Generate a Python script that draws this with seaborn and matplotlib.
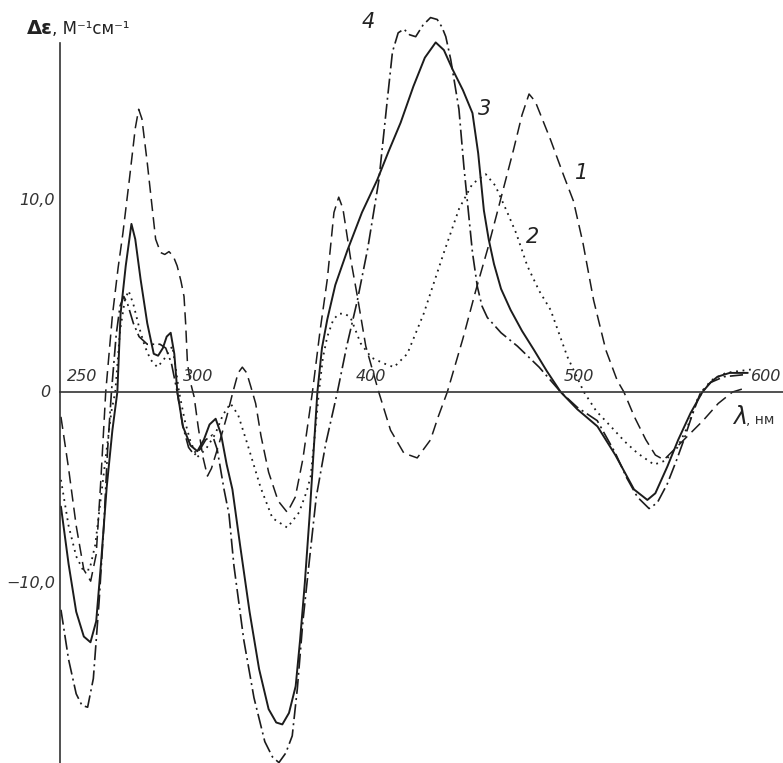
import numpy as np
import pandas as pd
import matplotlib
matplotlib.use("Agg")
import matplotlib.pyplot as plt
import matplotlib.transforms as mtransforms
import seaborn as sns

# ----------------------------
# Data
# ----------------------------

wl1 = [239, 243, 247, 251, 254.6, 257.5, 260, 262.5, 266, 269, 271.5, 275, 278, 279.8, 281.5,
       284.3, 288.7, 291.3, 293.5, 295.7, 298, 300, 302, 303.6, 304.5, 305.4, 307, 308.9, 311,
       313.5, 315.9, 318, 322, 326, 329, 332, 334.2, 336.5, 338.6, 341.2, 344, 348, 353, 357.8,
       362, 366, 371, 375, 378.8, 382.3, 384.8, 387, 391, 394.6, 399, 405.8, 412, 419, 426, 433,
       437, 441.8, 450, 456.7, 463, 468, 476.6, 481, 484.7, 488, 492, 496, 503, 508, 513, 518.6,
       525, 531, 534.5, 540, 546, 551, 555.5, 561, 568, 576, 584, 591.5, 598]
de1 = [-1.3, -4.0, -7.0, -9.3, -9.9, -8.5, -4.5, 0, 4.0, 6.5, 8.3, 11.2, 13.8, 14.8, 14.3,
       12.0, 8.0, 7.3, 7.2, 7.35, 7.1, 6.6, 5.8, 5.0, 3.5, 1.5, 0.5, -0.25, -1.8,
       -3.4, -4.4, -4.0, -2.7, -1.3, -0.1, 1.0, 1.3, 1.0, 0.3, -0.6, -2.3, -4.2, -5.7, -6.3,
       -5.5, -3.5, 0, 3.2, 5.9, 9.4, 10.2, 9.6, 7.0, 5.0, 2.4, 0, -2.0, -3.2, -3.45, -2.5,
       -1.3, 0, 2.8, 5.3, 7.5, 9.4, 12.7, 14.5, 15.6, 15.2, 14.2, 13.2, 11.3, 10.0, 7.8, 4.8,
       2.2, 0.6, 0, -1.3, -2.5, -3.3, -3.55, -3.0, -2.3, -1.5, -0.6, 0, 0.2]

wl2 = [239, 243, 247, 250.5, 254, 257, 260, 263, 265.5, 267.5, 270, 272.5, 274.5, 277, 280,
       283, 286, 289.6, 293, 297.5, 299.3, 301, 304, 307, 310.6, 315, 320, 324, 328, 332, 336.8,
       343.8, 350, 357.8, 364, 368, 370.1, 372.5, 374.4, 376.5, 378.8, 382, 385, 388, 391, 396.3,
       402, 408.4, 413.8, 420.8, 429.4, 440, 448, 455, 462, 467, 473.3, 478, 483.8, 490, 496,
       504.8, 513.5, 520, 527.6, 535, 541.6, 550.3, 556, 562.6, 568, 573, 580, 588, 595, 603]
de2 = [-4.6, -7.0, -8.6, -9.3, -9.3, -8.0, -5.5, -3.0, -1.0, 0, 3.2, 4.8, 5.3, 4.6, 3.4,
       2.4, 1.7, 1.3, 1.7, 2.4, 1.2, 0, -1.5, -2.6, -3.4, -3.0, -2.2, -1.2, -0.6, -1.2, -2.7,
       -5.0, -6.6, -7.1, -6.3, -5.2, -4.4, -2.0, 0, 1.8, 2.9, 3.8, 4.1, 4.1, 3.9, 2.55,
       1.8, 1.5, 1.3, 2.0, 4.1, 7.3, 9.6, 10.9, 11.4, 10.8, 9.4, 8.3, 6.6, 5.3, 4.3,
       1.85, 0, -1.0, -1.8, -2.6, -3.2, -3.8, -3.6, -2.9, -1.8, -0.4, 0.6, 1.0, 1.1, 1.2]

wl3 = [239, 243, 247, 251, 254.5, 257.5, 260, 263, 266, 268.6, 270.3, 273, 276, 278, 280.8,
       284.3, 287.7, 290, 292.5, 294.5, 296.6, 298.5, 300.1, 303, 307, 310.6, 314, 317, 320.2,
       323, 326, 329, 333, 338, 343, 348, 352, 355.2, 358.7, 362.2, 364.5, 367, 369.5, 371.5,
       373.6, 376, 378.8, 383, 389.3, 397, 405, 411, 417.3, 424, 430, 435.7, 440, 444.5, 450,
       455, 458, 461, 463.5, 466.3, 470, 475, 481, 487.3, 494, 501.3, 510, 520.6, 530, 539.8,
       546.8, 551, 557.3, 563, 569.5, 575.7, 580, 583.6, 590, 599.5]
de3 = [-6.0, -9.0, -11.5, -12.8, -13.1, -12.0, -9.0, -5.0, -2.0, 0, 4.1, 6.6, 8.8, 8.0, 5.9,
       3.6, 2.0, 1.9, 2.3, 2.9, 3.1, 2.0, 0, -1.8, -2.8, -3.1, -2.5, -1.7, -1.4,
       -2.2, -3.8, -5.1, -8.0, -11.5, -14.5, -16.6, -17.3, -17.4, -16.8, -15.4, -13.0, -10.0, -6.5, -3.3,
       0, 2.3, 3.8, 5.6, 7.4, 9.4, 11.1, 12.6, 14.1, 16.0, 17.5, 18.3, 17.9, 16.9, 15.8,
       14.6, 12.5, 9.5, 8.0, 6.7, 5.4, 4.3, 3.2, 2.2, 1.1, 0, -0.9, -1.8, -3.3, -5.1,
       -5.65, -5.3, -3.9, -2.5, -1.1, 0, 0.5, 0.8, 1.0, 1.0]

wl4 = [239, 243, 247, 250, 253, 256, 259, 261.5, 263.5, 265.5, 268, 270, 272, 274, 277, 280,
       284.3, 288, 291, 294, 297, 300, 303, 306, 309, 312, 315, 318.5, 321, 324.6, 327.2, 329.8,
       335, 340.3, 346, 350, 353.4, 357, 360.4, 363.1, 366, 369.2, 373, 378, 384.1, 389, 394.6,
       400, 405.9, 410, 413, 416, 419, 422, 425.2, 429, 433, 436.5, 439, 441, 443.6, 447.9,
       450.5, 453, 455, 457.6, 460, 462.8, 470, 478.6, 490, 501.3, 510, 520.5, 530, 536, 541.6,
       547.7, 552, 557.3, 562, 566, 570, 574.8, 580, 587, 597]
de4 = [-11.4, -14.0, -15.8, -16.4, -16.5, -15.0, -11.0, -7.0, -3.0, 0, 3.0, 4.5, 5.0, 4.6, 3.6, 2.9,
       2.5, 2.5, 2.5, 2.3, 1.5, 0, -1.8, -2.9, -3.3, -3.0, -2.5, -2.25, -3.0, -5.1, -6.4, -9.1,
       -13.0, -16.0, -18.3, -19.1, -19.4, -18.9, -18.0, -15.5, -12.0, -9.0, -5.5, -2.7, 0, 2.4, 4.8,
       7.5, 11.1, 15.0, 17.8, 18.8, 19.0, 18.7, 18.6, 19.2, 19.6, 19.5, 19.1, 18.6, 17.4, 14.8,
       11.8, 9.3, 7.3, 5.5, 4.5, 3.9, 3.1, 2.4, 1.3, 0, -0.8, -1.5, -3.2, -4.5, -5.5,
       -6.1, -5.8, -4.8, -3.6, -2.5, -1.3, 0, 0.5, 0.8, 0.9]

curve_names = ["1", "2", "3", "4"]
x_ticks = [250, 300, 400, 500, 600]
x_tick_labels = ["250", "300", "400", "500", "600"]
y_ticks = [10, -10]
y_tick_labels = ["10,0", "\u221210,0"]

df = pd.concat([
    pd.DataFrame({"wl": w, "de": d, "curve": n})
    for w, d, n in zip([wl1, wl2, wl3, wl4], [de1, de2, de3, de4], curve_names)
])

# ----------------------------
# Figure
# ----------------------------

sns.set_style("white")
plt.rcParams["font.family"] = ["DejaVu Sans"]

W, H = 783, 763
fig = plt.figure(figsize=(W / 100, H / 100), dpi=100)
ax = fig.add_axes([60 / W, 0, (W - 60) / W, 1])

ink = "#1c1c1c"
styles = {
    "1": dict(linestyle=(0, (8, 4)), linewidth=1.1),
    "2": dict(linestyle=(0, (1, 2.6)), linewidth=1.3),
    "3": dict(linestyle="-", linewidth=1.4),
    "4": dict(linestyle=(0, (9, 2.5, 1.2, 2.5)), linewidth=1.2),
}

for name in curve_names:
    sub = df[df["curve"] == name]
    sns.lineplot(data=sub, x="wl", y="de", sort=False, estimator=None,
                 color=ink, ax=ax, legend=False, **styles[name])

ax.set_xlim(238.5, 618)
ax.set_ylim(-19.42, 20.52)

for s in ["top", "right"]:
    ax.spines[s].set_visible(False)
ax.spines["bottom"].set_position(("data", 0))
ax.spines["left"].set_bounds(-19.42, 18.27)
for s in ["left", "bottom"]:
    ax.spines[s].set_color("#333333")
    ax.spines[s].set_linewidth(1.2)

ax.set_xticks(x_ticks)
ax.set_yticks(y_ticks)
ax.tick_params(axis="x", direction="inout", length=8, width=1, colors="#333333",
               labelbottom=False)
ax.tick_params(axis="y", direction="in", length=8, width=1, colors="#333333",
               labelleft=False)
ax.set_xlabel("")
ax.set_ylabel("")

# tick labels, italic, sitting above the zero line
label_font = dict(fontsize=11.5, fontstyle="italic", color="#333333")
label_dx = [-15, 6, -12, 5, 2]
for t, lab, dx in zip(x_ticks, x_tick_labels, label_dx):
    tr = mtransforms.offset_copy(ax.transData, fig=fig, x=dx, y=8, units="dots")
    ax.text(t, 0, lab, transform=tr, ha="left", va="bottom", **label_font)

for t, lab in zip(y_ticks, y_tick_labels):
    tr = mtransforms.offset_copy(ax.transData, fig=fig, x=-5, y=0, units="dots")
    ax.text(238.5, t, lab, transform=tr, ha="right", va="center", **label_font)
tr0 = mtransforms.offset_copy(ax.transData, fig=fig, x=-10, y=0, units="dots")
ax.text(238.5, 0, "0", transform=tr0, ha="right", va="center", **label_font)

# axis titles
def fpos(px, py):
    return px / W, 1 - py / H

fig.text(*fpos(27, 34), "\u0394\u03b5", fontsize=14, fontweight="bold",
         color="#222222", ha="left", va="baseline")
fig.text(*fpos(52, 34), ", \u041c\u207b\u00b9\u0441\u043c\u207b\u00b9", fontsize=12,
         color="#222222", ha="left", va="baseline")
fig.text(*fpos(733, 424), "\u03bb", fontsize=17, fontstyle="italic",
         color="#222222", ha="left", va="baseline")
fig.text(*fpos(746, 424), ", \u043d\u043c", fontsize=10,
         color="#333333", ha="left", va="baseline")

# curve numbers
curve_font = dict(fontsize=15, fontstyle="italic", color="#222222",
                  ha="center", va="center")
fig.text(*fpos(582, 173), "1", **curve_font)
fig.text(*fpos(533, 237), "2", **curve_font)
fig.text(*fpos(485, 109), "3", **curve_font)
fig.text(*fpos(368, 22), "4", **curve_font)

plt.savefig("out.png", dpi=100, facecolor="white")
